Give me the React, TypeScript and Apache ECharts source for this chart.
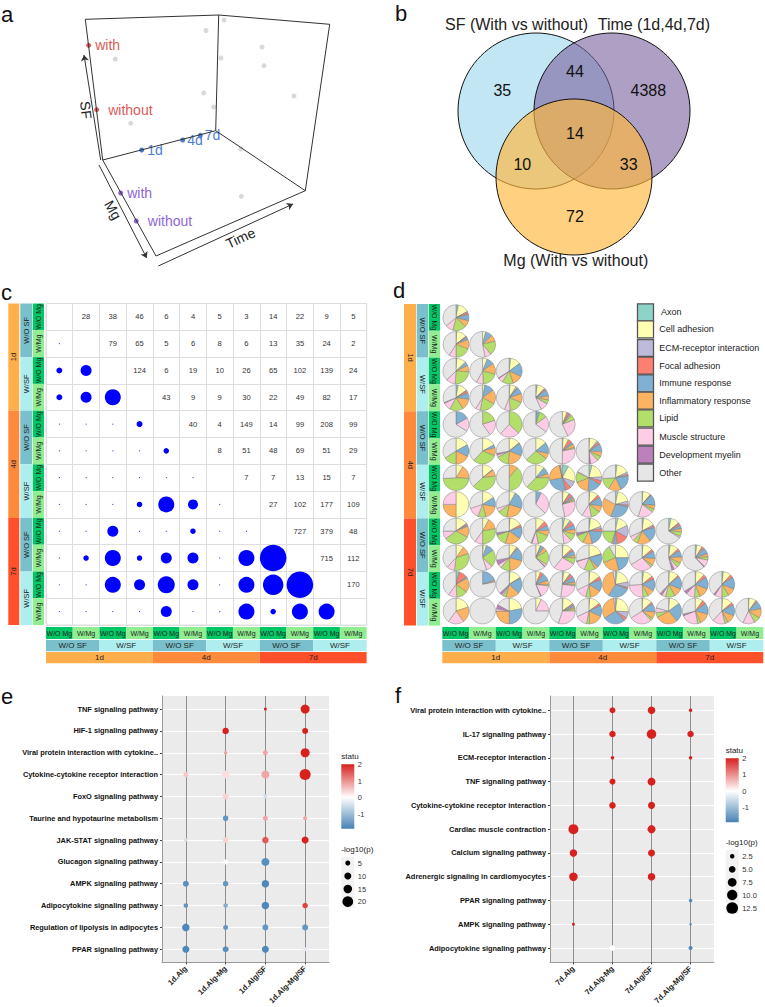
import React, { useEffect, useRef } from "react";
import * as echarts from "echarts";

const FONT = "'Liberation Sans', Arial, sans-serif";

// ---------- panel a ----------
const boxEdges = [
  [[85.3, 19.3], [218.7, 15]], [[218.7, 15], [329.7, 24.3]], [[218.7, 15], [215.7, 130.7]],
  [[85.3, 19.3], [102.7, 160]], [[329.7, 24.3], [305.3, 190.7]], [[102.7, 160], [215.7, 130.7]],
  [[215.7, 130.7], [305.3, 190.7]], [[305.3, 190.7], [156, 256]], [[156, 256], [102.7, 160]],
];
const boxArrows = [
  [[100.7, 160], [84, 55]], [[99, 165], [146.7, 258]], [[158.3, 266], [293, 204]],
];
const grayPoints = [[224, 20], [206, 30.5], [262, 47], [115.3, 59], [221, 58], [264, 65.7], [203.7, 93], [294, 96], [213.7, 107], [130.7, 123.3], [240.7, 149], [241.3, 196.3]];
const factorPoints: [number, number, string, string, number][] = [
  [88.7, 45.3, "with", "#DB5A5A", 4], [96.7, 109.7, "without", "#DB5A5A", 9],
  [141.7, 150, "1d", "#4A7FD6", 3], [182.7, 140, "4d", "#4A7FD6", 2], [200.3, 135.3, "7d", "#4A7FD6", 2],
  [120.7, 193, "with", "#8E66D8", 4], [136.3, 221, "without", "#8E66D8", 9],
];

// ---------- panel b ----------
const vennCircles: [number, number, string][] = [
  [536, 111, "rgba(194,230,244,1)"], [612, 111, "rgba(120,97,157,0.6)"], [574, 177, "rgba(255,183,58,0.65)"],
];
const vennCounts: [number, number, string][] = [
  [502.3, 90.7, "35"], [575, 71.3, "44"], [648.3, 90.7, "4388"], [575, 133.7, "14"],
  [522.3, 164, "10"], [628.7, 164, "33"], [575, 216.7, "72"],
];

// ---------- panel c ----------
const mgLabels = ["W/O Mg", "W/Mg"];
const sfLabels = ["W/O SF", "W/SF"];
const timeLabels = ["1d", "4d", "7d"];
const groupIds = ["g1", "g2", "g3", "g4", "g5", "g6", "g7", "g8", "g9", "g10", "g11", "g12"];
const upperCounts = [
  [28, 38, 46, 6, 4, 5, 3, 14, 22, 9, 5],
  [79, 65, 5, 6, 8, 6, 13, 35, 24, 2],
  [124, 6, 19, 10, 26, 65, 102, 139, 24],
  [43, 9, 9, 30, 22, 49, 82, 17],
  [40, 4, 149, 14, 99, 208, 99],
  [8, 51, 48, 69, 51, 29],
  [7, 7, 13, 15, 7],
  [27, 102, 177, 109],
  [727, 379, 48],
  [715, 112],
  [170],
];
const lowerDots = [
  [],
  [1],
  [6, 11],
  [6, 11, 16],
  [1, 1, 1, 6],
  [1, 1, 1, 1, 5.5],
  [1, 1, 1, 1, 1, 1],
  [1, 1, 1, 5.5, 16, 10, 1],
  [1, 1, 11, 1, 1, 5.5, 1, 1],
  [1, 5.5, 16, 5.5, 11, 11, 1, 16, 26.6],
  [1, 1, 16, 11, 17, 11, 1, 16, 20.5, 26.6],
  [1, 1, 1, 1, 11, 1, 1, 16, 5.5, 16, 16],
];

// ---------- panel d ----------
const pieNames = ["Axon", "Cell adhesion", "ECM-receptor interaction", "Focal adhesion", "Immune response", "Inflammatory response", "Lipid", "Muscle structure", "Development myelin", "Other"];
const pieColors = ["#8DD3C7", "#FFFFB3", "#BEBADA", "#FB8072", "#80B1D3", "#FDB462", "#B3DE69", "#FCCDE5", "#BC80BD", "#E6E6E6"];
const pieRow0 = [[3, 14, 1, 3, 8, 8, 17, 10, 0, 36]];
const pieRow1 = [[1, 13, 1, 1, 3, 12, 19, 9, 0, 41], [0, 4, 0, 0, 9, 8, 18, 8, 0, 53]];
const pieRow2 = [[1, 12, 0, 0, 5, 8, 25, 12, 0, 37], [0, 6, 0, 0, 9, 14, 20, 9, 0, 42], [2, 13, 0, 0, 17, 13, 14, 6, 1, 34]];
const pieRow3 = [[3, 12, 1, 3, 8, 14, 17, 10, 1, 31], [0, 3, 0, 0, 12, 18, 20, 6, 0, 41], [1, 8, 2, 1, 8, 11, 18, 7, 0, 44], [2, 10, 1, 2, 8, 5, 5, 10, 0, 57]];
const pieRow4 = [[0, 0, 0, 0, 17, 0, 0, 17, 0, 66], [0, 0, 0, 0, 0, 0, 20, 20, 0, 60], [0, 0, 0, 0, 0, 0, 37, 25, 0, 38], [1, 0, 0, 0, 4, 0, 10, 20, 0, 65], [0, 6, 0, 3, 2, 2, 6, 24, 0, 57]];
const pieRow5 = [[0, 17, 0, 0, 15, 18, 16, 0, 0, 34], [0, 17, 0, 0, 4, 10, 31, 0, 0, 38], [0, 14, 0, 1, 16, 20, 16, 3, 2, 28], [0, 14, 0, 0, 14, 7, 28, 0, 0, 37], [1, 7, 0, 5, 3, 4, 2, 28, 0, 50], [1, 10, 2, 3, 10, 6, 6, 10, 2, 50]];
const pieRow6 = [[0, 9, 0, 0, 0, 17, 48, 0, 0, 26], [0, 14, 0, 0, 1, 8, 40, 0, 0, 37], [0, 0, 0, 0, 0, 11, 39, 0, 0, 50], [0, 11, 0, 0, 9, 5, 37, 0, 0, 38], [8, 22, 9, 7, 26, 24, 1, 1, 0, 2], [4, 20, 5, 5, 17, 18, 13, 1, 0, 17], [2, 16, 3, 2, 20, 16, 15, 0, 0, 26]];
const pieRow7 = [[0, 50, 0, 0, 0, 25, 0, 25, 0, 0], [0, 16, 0, 0, 12, 18, 10, 14, 0, 30], [0, 8, 0, 0, 22, 23, 12, 5, 0, 30], [0, 0, 0, 0, 7, 0, 0, 30, 0, 63], [1, 8, 1, 4, 3, 2, 2, 26, 0, 53], [1, 11, 0, 4, 11, 8, 12, 12, 0, 41], [3, 18, 5, 2, 28, 27, 0, 0, 0, 17], [1, 10, 1, 1, 13, 5, 4, 20, 0, 45]];
const pieRow8 = [[0, 15, 0, 2, 2, 14, 32, 10, 0, 25], [0, 8, 0, 0, 0, 14, 28, 10, 0, 40], [1, 16, 0, 3, 15, 20, 15, 0, 3, 27], [0, 12, 0, 6, 6, 7, 16, 8, 1, 44], [3, 7, 2, 5, 6, 6, 9, 10, 0, 52], [2, 17, 3, 4, 20, 12, 11, 1, 3, 27], [3, 15, 15, 15, 5, 2, 20, 0, 0, 25], [2, 15, 2, 2, 18, 17, 6, 6, 0, 32], [3, 11, 1, 3, 4, 4, 6, 2, 0, 66]];
const pieRow9 = [[0, 10, 0, 0, 0, 10, 32, 10, 0, 38], [1, 4, 0, 0, 10, 0, 22, 8, 0, 55], [0, 10, 0, 2, 17, 20, 12, 5, 6, 28], [0, 6, 1, 0, 4, 5, 18, 3, 1, 62], [1, 12, 0, 3, 6, 3, 8, 28, 0, 39], [0, 20, 0, 1, 17, 4, 14, 14, 1, 29], [0, 25, 0, 0, 21, 23, 23, 0, 0, 8], [1, 13, 0, 3, 9, 9, 3, 28, 0, 34], [2, 11, 0, 3, 8, 8, 6, 5, 3, 54], [2, 7, 0, 3, 8, 4, 4, 9, 1, 62]];
const pieRow10 = [[4, 0, 0, 11, 2, 18, 14, 11, 0, 40], [0, 0, 0, 0, 20, 2, 0, 0, 0, 78], [1, 15, 0, 1, 20, 17, 4, 2, 3, 37], [0, 6, 0, 4, 10, 5, 2, 16, 1, 56], [2, 8, 1, 4, 7, 3, 2, 25, 0, 48], [1, 14, 0, 4, 15, 14, 6, 14, 0, 32], [2, 20, 7, 2, 28, 38, 0, 0, 0, 3], [2, 12, 0, 4, 15, 9, 7, 25, 0, 26], [1, 12, 0, 2, 16, 11, 12, 5, 3, 38], [1, 11, 0, 4, 15, 13, 7, 11, 4, 34], [2, 10, 0, 4, 15, 10, 9, 9, 2, 39]];
const pieRow11 = [[0, 20, 0, 0, 0, 20, 0, 20, 0, 40], [0, 0, 0, 0, 0, 0, 0, 0, 0, 100], [0, 22, 0, 0, 28, 25, 0, 3, 5, 17], [0, 7, 0, 0, 0, 0, 0, 18, 0, 75], [1, 14, 0, 2, 3, 2, 3, 30, 0, 45], [1, 14, 0, 3, 14, 17, 4, 15, 0, 32], [2, 24, 8, 4, 28, 32, 0, 0, 0, 2], [1, 12, 0, 2, 11, 9, 3, 28, 0, 34], [1, 14, 0, 0, 24, 28, 6, 6, 0, 21], [0, 10, 0, 5, 14, 14, 4, 22, 2, 29], [1, 13, 0, 3, 14, 11, 4, 16, 0, 38], [1, 9, 0, 2, 10, 12, 8, 15, 0, 43]];
const pieRows = [pieRow0, pieRow1, pieRow2, pieRow3, pieRow4, pieRow5, pieRow6, pieRow7, pieRow8, pieRow9, pieRow10, pieRow11];

// ---------- panels e, f: [column, row, statu, -log10(p)] ----------
const ePathways = ["TNF signaling pathway", "HIF-1 signaling pathway", "Viral protein interaction with cytokine..", "Cytokine-cytokine receptor interaction", "FoxO signaling pathway", "Taurine and hypotaurine metabolism", "JAK-STAT signaling pathway", "Glucagon signaling pathway", "AMPK signaling pathway", "Adipocytokine signaling pathway", "Regulation of lipolysis in adipocytes", "PPAR signaling pathway"];
const eGroups = ["1d.Alg", "1d.Alg-Mg", "1d.Alg/SF", "1d.Alg-Mg/SF"];
const ePoints = [
  [2, 0, 2, 1.6], [3, 0, 2, 14.7],
  [1, 1, 2, 7.6], [3, 1, 2, 6.5],
  [1, 2, 0.8, 2.2], [2, 2, 0.8, 4.5], [3, 2, 2, 14.7],
  [0, 3, 0.5, 4.5], [1, 3, 0.3, 10.2], [2, 3, 0.8, 11.6], [3, 3, 2, 21.9],
  [1, 4, 0.4, 6.5], [2, 4, -0.5, 2.9],
  [1, 5, -1.7, 5.5], [2, 5, 0.8, 4.5], [3, 5, 0.8, 2.9],
  [0, 6, -0.5, 2.2], [1, 6, 0.4, 5.5], [2, 6, 1.5, 7.6], [3, 6, 2, 8.9],
  [1, 7, 0, 4.5], [2, 7, -1.8, 11.6],
  [0, 8, -1.8, 6.5], [1, 8, -1.7, 5.5], [2, 8, -1.9, 10.2],
  [0, 9, -1.7, 3.7], [1, 9, -1.3, 3.7], [2, 9, -1.9, 10.2], [3, 9, 1.7, 5.5],
  [0, 10, -1.9, 10.2], [1, 10, -1.7, 4.5], [2, 10, -1.7, 6.5], [3, 10, -1.7, 6.5],
  [0, 11, -1.9, 8.9], [1, 11, -1.8, 6.5], [2, 11, -1.9, 8.9], [3, 11, -0.3, 2.9],
];
const fPathways = ["Viral protein interaction with cytokine..", "IL-17 signaling pathway", "ECM-receptor interaction", "TNF signaling pathway", "Cytokine-cytokine receptor interaction", "Cardiac muscle contraction", "Calcium signaling pathway", "Adrenergic signaling in cardiomyocytes", "PPAR signaling pathway", "AMPK signaling pathway", "Adipocytokine signaling pathway"];
const fGroups = ["7d.Alg", "7d.Alg-Mg", "7d.Alg/SF", "7d.Alg-Mg/SF"];
const fPoints = [
  [1, 0, 2, 3.5], [2, 0, 2, 5.5], [3, 0, 2, 1.2],
  [1, 1, 2, 4.1], [2, 1, 2, 8.8], [3, 1, 2, 4.1],
  [1, 2, 2, 1.2], [3, 2, 2, 1.2],
  [1, 3, 2, 3.5], [2, 3, 2, 6.25],
  [1, 4, 2, 4.1], [2, 4, 2, 4.8],
  [0, 5, 2, 9.8], [2, 5, 2, 6.25],
  [0, 6, 2, 5.5], [2, 6, 2, 4.8],
  [0, 7, 2, 7], [2, 7, 2, 5.5],
  [3, 8, -1.9, 1.2],
  [0, 9, 2, 0.9], [3, 9, -1.9, 0.6],
  [1, 10, 0, 3], [3, 10, -1.9, 1.6],
];
const statuTicks = ["2", "1", "0", "-1"];
const eSizeLegend = ["5", "10", "15", "20"];
const fSizeLegend = ["2.5", "5.0", "7.5", "10.0", "12.5"];

const TIME_COLORS = ["#FFAE4C", "#FF8A3C", "#FF4F2B"];
const SF_COLORS = ["#79C0CC", "#AEEEEE"];
const MG_COLORS = ["#00C864", "#90EE90"];

function label(text: string, x: number, y: number, size: number, opts: any = {}) {
  const { rotation = 0, align = "left", fill = "#222", weight = "normal", vAlign = "middle" } = opts;
  return {
    type: "text", x, y, rotation, silent: true, z: 20,
    style: { text, x: 0, y: 0, fontSize: size, fontFamily: FONT, fontWeight: weight, fill, align, verticalAlign: vAlign },
  };
}
function band(x: number, y: number, w: number, h: number, fill: string, text: string, size: number, rotation: number) {
  return [
    { type: "rect", silent: true, z: 10, shape: { x, y, width: w, height: h }, style: { fill } },
    label(text, x + w / 2, y + h / 2, size, { rotation, align: "center", fill: "#222" }),
  ];
}
function sideBands(xs: number[][], top: number, cell: number, rotation: number) {
  const out: any[] = [];
  for (let t = 0; t < 3; t++) out.push(...band(xs[0][0], top + t * 4 * cell, xs[0][1], 4 * cell, TIME_COLORS[t], timeLabels[t], 7.5, rotation));
  for (let s = 0; s < 6; s++) out.push(...band(xs[1][0], top + s * 2 * cell, xs[1][1], 2 * cell, SF_COLORS[s % 2], sfLabels[s % 2], 7.5, rotation));
  for (let m = 0; m < 12; m++) out.push(...band(xs[2][0], top + m * cell, xs[2][1], cell, MG_COLORS[m % 2], mgLabels[m % 2], 7, rotation));
  return out;
}
function bottomBands(left: number, cell: number) {
  const out: any[] = [];
  for (let m = 0; m < 12; m++) out.push(...band(left + m * cell, 627, cell, 12, MG_COLORS[m % 2], mgLabels[m % 2], 7, 0));
  for (let s = 0; s < 6; s++) out.push(...band(left + s * 2 * cell, 640, 2 * cell, 11.3, SF_COLORS[s % 2], sfLabels[s % 2], 8, 0));
  for (let t = 0; t < 3; t++) out.push(...band(left + t * 4 * cell, 652, 4 * cell, 11.3, TIME_COLORS[t], timeLabels[t], 8, 0));
  return out;
}
function statuLegend(x: number, top: number, bottom: number, tickYs: number[], titleY: number) {
  const white = 2 / 3.9;
  return [
    label("statu", x, titleY, 8),
    {
      type: "rect", silent: true, z: 10, shape: { x, y: top, width: 13, height: bottom - top },
      style: { fill: { type: "linear", x: 0, y: 0, x2: 0, y2: 1, colorStops: [{ offset: 0, color: "#D7211E" }, { offset: white, color: "#FFFFFF" }, { offset: 1, color: "#4682B4" }] } },
    },
    ...statuTicks.map((t, i) => label(t, x + 16.5, tickYs[i], 7.5, { fill: "#333" })),
  ];
}
function sizeLegend(x: number, titleY: number, top: number, bottom: number, names: string[], ys: number[], ds: number[]) {
  return [
    label("-log10(p)", x, titleY, 8),
    { type: "rect", silent: true, z: 10, shape: { x, y: top, width: 13, height: bottom - top }, style: { fill: "#F2F2F2" } },
    ...names.flatMap((n, i) => [
      { type: "circle", silent: true, z: 11, shape: { cx: x + 6.5, cy: ys[i], r: ds[i] / 2 }, style: { fill: "#000" } },
      label(n, x + 16.5, ys[i], 7.5, { fill: "#333" }),
    ]),
  ];
}
function bubbleAxes(gridIndex: number, cols: string[], rows: string[]) {
  const colIdx = cols.map((_, i) => i);
  const rowIdx = rows.map((_, i) => i);
  return {
    x: {
      gridIndex, type: "value", min: -0.6, max: cols.length - 0.4,
      axisLine: { show: true, onZero: false, lineStyle: { color: "#9a9a9a", width: 1 } },
      axisTick: { show: true, customValues: colIdx, length: 2, lineStyle: { color: "#444" } },
      axisLabel: { customValues: colIdx, formatter: (v: number) => cols[v], rotate: 45, margin: 5, fontSize: 7.7, fontWeight: "bold", color: "#222", fontFamily: FONT },
      splitLine: { show: true, lineStyle: { color: "#8f8f8f", width: 1 } },
    },
    y: {
      gridIndex, type: "value", inverse: true, min: -0.6, max: rows.length - 0.4,
      axisLine: { show: true, onZero: false, lineStyle: { color: "#9a9a9a", width: 1 } },
      axisTick: { show: true, customValues: rowIdx, length: 2, lineStyle: { color: "#444" } },
      axisLabel: { customValues: rowIdx, formatter: (v: number) => rows[v], margin: 4, fontSize: 7.4, fontWeight: "bold", color: "#111", fontFamily: FONT },
      splitLine: { show: true, lineStyle: { color: "#FFFFFF", width: 1 } },
    },
  };
}

function buildOption() {
  const CELL_C = 26.72;
  const CELL_D = 26.75;
  const eAxes = bubbleAxes(2, eGroups, ePathways);
  const fAxes = bubbleAxes(3, fGroups, fPathways);

  const canvasText = (size: number, color: string) => ({ show: true, fontSize: size, color, fontFamily: FONT });

  const factorSeries = factorPoints.map(([x, y, name, color, dist]) => ({
    value: [x, y], itemStyle: { color, opacity: 1 },
    label: { ...canvasText(14, color), formatter: name, position: "right", distance: dist },
  }));

  const upperData: any[] = [];
  upperCounts.forEach((row, r) => row.forEach((v, i) => upperData.push([r + 1 + i, r, v])));
  const lowerData: any[] = [];
  lowerDots.forEach((row, r) => row.forEach((v, c) => lowerData.push([c, r, v])));

  const matrixAxis = (inverse: boolean) => ({
    gridIndex: 1, type: "category", data: groupIds, inverse,
    axisLine: { show: false }, axisTick: { show: false }, axisLabel: { show: false },
    splitLine: { show: true, interval: 0, lineStyle: { color: "#DEDEDE", width: 1 } },
  });

  const pieSeries: any[] = [];
  pieRows.forEach((row, r) =>
    row.forEach((vals, c) =>
      pieSeries.push({
        type: "pie", silent: true, z: 5, animation: false,
        center: [456 + c * 26.58, 317.7 + r * 26.67], radius: [0, 12.9],
        startAngle: 90, clockwise: true, minAngle: 0, avoidLabelOverlap: false,
        label: { show: false }, labelLine: { show: false },
        itemStyle: { borderColor: "#777", borderWidth: 0.45 },
        data: vals.map((value, k) => ({ name: pieNames[k], value, itemStyle: { color: pieColors[k] } })).filter((d) => d.value > 0),
      }),
    ),
  );

  const graphicEls: any[] = [
    label("a", 1, 14, 22, { fill: "#111" }),
    label("b", 395, 13, 22, { fill: "#111" }),
    label("c", 1, 292, 22, { fill: "#111" }),
    label("d", 393, 290, 22, { fill: "#111" }),
    label("e", 1, 696, 22, { fill: "#111" }),
    label("f", 395, 695, 22, { fill: "#111" }),
    label("SF", 86, 110, 14, { rotation: -1.45, align: "center", fill: "#222" }),
    label("Mg", 113, 210, 14, { rotation: -1.05, align: "center", fill: "#222" }),
    label("Time", 240.5, 238, 14, { rotation: 0.43, align: "center", fill: "#222" }),
    label("SF (With vs without)", 445, 24, 16),
    label("Time (1d,4d,7d)", 597.7, 24, 16),
    label("Mg (With vs without)", 503.3, 260, 16),
    ...sideBands([[8.3, 11], [20.3, 11.7], [32.7, 11.3]], 303.5, 26.8, Math.PI / 2),
    ...bottomBands(46, CELL_C),
    ...sideBands([[404, 12], [416.7, 11.3], [428.7, 11.3]], 304, 26.8, -Math.PI / 2),
    ...bottomBands(442.3, CELL_D),
    ...statuLegend(341.3, 764.3, 828.7, [764.7, 781, 797.3, 814], 756.7),
    ...sizeLegend(341.3, 849, 856.7, 907.7, eSizeLegend, [863, 876, 889, 901.7], [5, 7, 8.5, 10.7]),
    ...statuLegend(725.7, 758.3, 822.3, [758, 774.7, 791, 807.7], 750),
    ...sizeLegend(725.7, 842.7, 850, 914, fSizeLegend, [856.3, 869.3, 882.3, 895, 908], [4.5, 6.7, 8.7, 10.3, 11.7]),
  ];
  const legendYs = [312.3, 329.3, 348, 365.7, 383.3, 400.7, 418.3, 436.7, 454.7, 472.7];
  pieNames.forEach((name, i) => {
    graphicEls.push({
      type: "rect", silent: true, z: 10, shape: { x: 637.5, y: legendYs[i] - 8.5, width: 16, height: 17 },
      style: { fill: pieColors[i], stroke: "#555", lineWidth: 1.3 },
    });
    graphicEls.push(label(name, i === 0 ? 661 : 659.3, legendYs[i], 9, { fill: "#222" }));
  });

  const BUBBLE_COLORS = ["#4682B4", "#FFFFFF", "#D7211E"];

  return {
    animation: false,
    backgroundColor: "#fff",
    textStyle: { fontFamily: FONT },
    grid: [
      { left: 0, top: 0, width: 765, height: 1007, show: false },
      { left: 46, top: 303.5, width: 320.7, height: 321.5, show: true, borderColor: "#DEDEDE", borderWidth: 1, backgroundColor: "#fff" },
      { left: 162, top: 696, width: 167, height: 268.3, show: true, borderWidth: 0, backgroundColor: "#EBEBEB" },
      { left: 550, top: 696, width: 164, height: 268.3, show: true, borderWidth: 0, backgroundColor: "#EBEBEB" },
    ],
    xAxis: [
      { gridIndex: 0, type: "value", min: 0, max: 765, show: false },
      matrixAxis(false),
      eAxes.x,
      fAxes.x,
    ],
    yAxis: [
      { gridIndex: 0, type: "value", min: 0, max: 1007, inverse: true, show: false },
      matrixAxis(true),
      eAxes.y,
      fAxes.y,
    ],
    visualMap: [
      { type: "continuous", show: false, seriesIndex: 6, dimension: 2, min: -2, max: 2, inRange: { color: BUBBLE_COLORS } },
      { type: "continuous", show: false, seriesIndex: 7, dimension: 2, min: -2, max: 2, inRange: { color: BUBBLE_COLORS } },
    ],
    series: [
      // 0: panel a frame
      {
        type: "scatter", xAxisIndex: 0, yAxisIndex: 0, symbolSize: 5, silent: true,
        itemStyle: { color: "#D9D9D9", opacity: 1 }, data: grayPoints,
        markLine: {
          silent: true, animation: false, symbol: ["none", "none"], label: { show: false },
          lineStyle: { color: "#333", width: 1, type: "solid", opacity: 1 },
          data: boxEdges.map(([a, b]) => [{ coord: a }, { coord: b }]),
        },
      },
      // 1: panel a axes
      {
        type: "scatter", xAxisIndex: 0, yAxisIndex: 0, symbolSize: 5, silent: true, data: factorSeries,
        markLine: {
          silent: true, animation: false, symbol: ["none", "arrow"], symbolSize: 6, label: { show: false },
          lineStyle: { color: "#333", width: 1, type: "solid", opacity: 1 },
          data: boxArrows.map(([a, b]) => [{ coord: a }, { coord: b }]),
        },
      },
      // 2: venn circles
      {
        type: "scatter", xAxisIndex: 0, yAxisIndex: 0, symbolSize: 156, silent: true,
        data: vennCircles.map(([x, y, color]) => ({ value: [x, y], itemStyle: { color, borderColor: "#111", borderWidth: 1, opacity: 1 } })),
      },
      // 3: venn counts
      {
        type: "scatter", xAxisIndex: 0, yAxisIndex: 0, symbolSize: 1, silent: true, z: 6,
        itemStyle: { color: "rgba(0,0,0,0)", opacity: 1 },
        data: vennCounts.map(([x, y, t]) => ({
          value: [x, y], label: { ...canvasText(16, "#111"), formatter: t, position: "inside" },
        })),
      },
      // 4: matrix numbers
      {
        type: "scatter", xAxisIndex: 1, yAxisIndex: 1, symbolSize: 1, silent: true,
        itemStyle: { color: "rgba(0,0,0,0)", opacity: 1 }, data: upperData,
        label: { ...canvasText(7.6, "#333"), position: "inside", formatter: (p: any) => String(p.value[2]) },
      },
      // 5: matrix circles
      {
        type: "scatter", xAxisIndex: 1, yAxisIndex: 1, silent: true,
        symbolSize: (v: number[]) => v[2], itemStyle: { color: "#0000FF", opacity: 1 }, data: lowerData,
      },
      // 6, 7: bubble plots
      {
        type: "scatter", xAxisIndex: 2, yAxisIndex: 2, silent: true, data: ePoints,
        symbolSize: (v: number[]) => 2.35 * Math.sqrt(v[3]), itemStyle: { opacity: 1 },
      },
      {
        type: "scatter", xAxisIndex: 3, yAxisIndex: 3, silent: true, data: fPoints,
        symbolSize: (v: number[]) => 3.2 * Math.sqrt(v[3]), itemStyle: { opacity: 1 },
      },
      ...pieSeries,
    ],
    graphic: { elements: graphicEls },
  };
}

export default function App() {
  const ref = useRef<HTMLDivElement>(null);
  useEffect(() => {
    document.body.style.margin = "0";
    const chart = echarts.init(ref.current!, undefined, { renderer: "svg" });
    chart.setOption(buildOption() as any);
    return () => chart.dispose();
  }, []);
  return <div ref={ref} style={{ width: 765, height: 1007 }} />;
}
